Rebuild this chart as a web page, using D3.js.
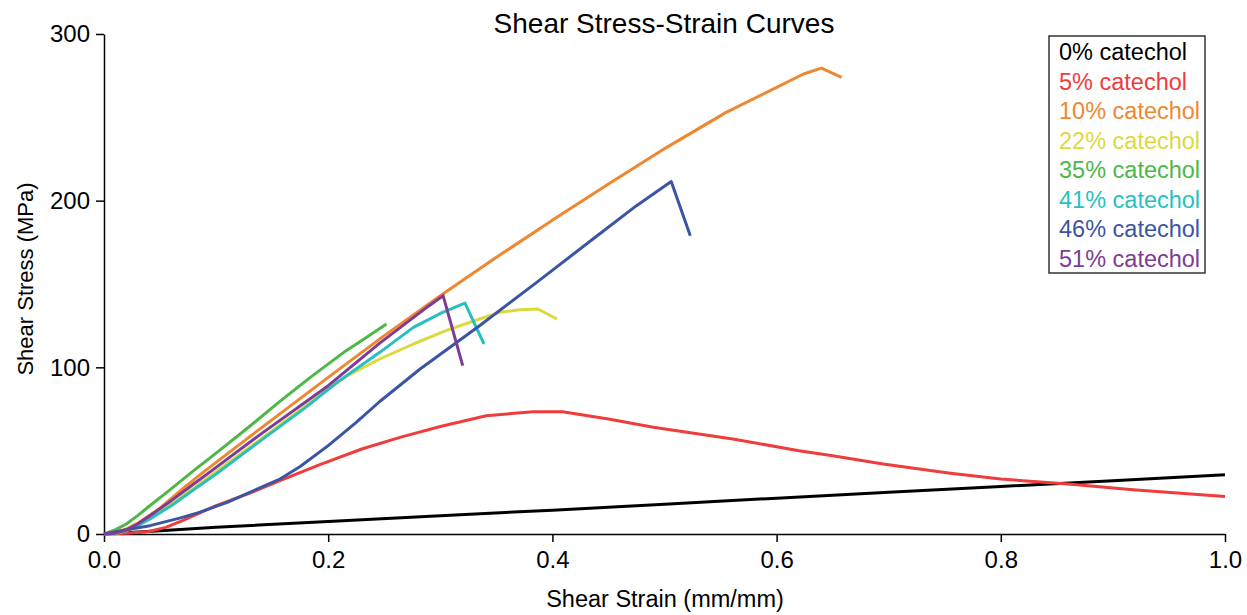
<!DOCTYPE html>
<html>
    <head>
        <meta charset="utf-8">
        <title>Shear Stress-Strain Curves</title>
        <script src="https://d3js.org/d3.v7.min.js"></script>
        <style>
        body{
            margin: 0;
            background: #ffffff;
        }
        svg{
            font-family: Arial, "Liberation Sans", Helvetica, sans-serif;
        }
        .axis path, .axis line{
            stroke: #000;
            stroke-width: 1.5px;
        }
        .axis text{
            font-size: 24px;
            fill: #000;
        }
        .curve{
            fill: none;
            stroke-width: 3px;
            stroke-linejoin: round;
        }
        </style>
    </head>
    <body>
        <script>
            // series labels and colours
            var seriesNames = ["0% catechol", "5% catechol", "10% catechol", "22% catechol",
                               "35% catechol", "41% catechol", "46% catechol", "51% catechol"];
            var seriesColors = ["#000000", "#ee3d3c", "#ef8731", "#dcd93e",
                                "#4db748", "#29bfc0", "#3b55a5", "#7c3c97"];

            // [strain, stress]
            var cat0 = [[0,0],[0.05,2],[0.1,4],[0.2,7.5],[0.3,11],[0.4,14.3],[0.5,17.8],[0.6,21.5],[0.7,25],[0.8,28.5],[0.9,32],[1,35.5]];
            var cat5 = [[0,0],[0.02,0.5],[0.04,1.5],[0.055,4],[0.07,8],[0.085,12.5],[0.1,17],[0.13,24.5],[0.157,32],[0.192,41.5],
                        [0.23,51],[0.264,58],[0.3,64.5],[0.341,71],[0.383,73.4],[0.409,73.4],[0.45,69],[0.49,64],[0.561,57],
                        [0.62,50],[0.65,47],[0.695,42],[0.755,36.5],[0.8,33],[0.86,30],[0.918,26.5],[1.0,22.5]];
            var cat10 = [[0,0],[0.01,1],[0.02,3],[0.03,6.5],[0.04,11],[0.05,15.5],[0.07,27],[0.0855,35.5],[0.1,43],[0.135,61],
                         [0.2,94],[0.25,119],[0.3,143],[0.35,166],[0.404,190],[0.45,210],[0.502,232],[0.555,253],[0.6,268],
                         [0.624,276],[0.64,279.5],[0.658,274]];
            var cat22 = [[0,0],[0.01,0.3],[0.02,2],[0.03,5],[0.041,9.5],[0.06,18],[0.08,27.5],[0.1,37.5],[0.14,57],[0.18,77],
                         [0.2,87],[0.216,94.5],[0.246,105],[0.276,114],[0.305,122],[0.335,129],[0.353,133],[0.371,134.5],
                         [0.387,135],[0.404,129]];
            var cat35 = [[0,0],[0.01,2.5],[0.02,6],[0.03,11],[0.04,16.5],[0.056,25],[0.08,38],[0.1,48.5],[0.127,63],[0.155,78.5],
                         [0.184,94],[0.216,110],[0.231,116.5],[0.252,126]];
            var cat41 = [[0,0],[0.01,0.5],[0.02,2],[0.03,5],[0.041,9],[0.06,17],[0.08,26.5],[0.1,36],[0.141,56.6],[0.18,76],
                         [0.21,92],[0.246,109],[0.276,124],[0.302,133],[0.322,138.5],[0.339,114]];
            var cat46 = [[0,0],[0.02,2.5],[0.041,5],[0.0675,9.5],[0.085,13],[0.11,19],[0.13,25],[0.157,33],[0.175,40.5],
                         [0.2,53],[0.225,67],[0.246,79.5],[0.282,99],[0.335,125],[0.386,151],[0.442,180],[0.475,197],[0.506,211.5],[0.523,179]];
            var cat51 = [[0,0],[0.01,0.5],[0.02,2.5],[0.03,6],[0.041,11],[0.06,20],[0.08,30],[0.1,40],[0.142,61],[0.2,89],
                         [0.246,114.5],[0.29,137],[0.3025,143],[0.32,101]];

            var xTicks = [0, 0.2, 0.4, 0.6, 0.8, 1.0];
            var yTicks = [0, 100, 200, 300];

            var allSeries = [cat0, cat5, cat10, cat22, cat35, cat41, cat46, cat51];

            var margin = { top: 34, right: 22, bottom: 81, left: 104 },
                width = 1247 - margin.left - margin.right,
                height = 615 - margin.top - margin.bottom;

            var root = d3.select('body').append('svg')
                .attr('width', 1247)
                .attr('height', 615);

            var svg = root.append('g')
                .attr('transform', 'translate(' + margin.left + ',' + margin.top + ')');

            var x = d3.scaleLinear().domain([0, 1]).range([0, width]);
            var y = d3.scaleLinear().domain([0, 300]).range([height, 0]);

            // axes
            svg.append('g')
                .attr('class', 'axis')
                .attr('transform', 'translate(0,' + height + ')')
                .call(d3.axisBottom(x).tickValues(xTicks).tickFormat(d3.format('.1f'))
                    .tickSizeInner(8).tickSizeOuter(0).tickPadding(9));

            svg.append('g')
                .attr('class', 'axis')
                .call(d3.axisLeft(y).tickValues(yTicks)
                    .tickSizeInner(8).tickSizeOuter(0).tickPadding(6));

            // curves
            var line = d3.line()
                .x(function(d){ return x(d[0]); })
                .y(function(d){ return y(d[1]); });

            svg.selectAll('.curve')
                .data(allSeries)
                .enter()
                .append('path')
                .attr('class', 'curve')
                .attr('d', line)
                .attr('stroke', function(d, i){ return seriesColors[i]; });

            // title + axis labels
            root.append('text')
                .attr('x', 664)
                .attr('y', 33)
                .attr('text-anchor', 'middle')
                .style('font-size', '28px')
                .text('Shear Stress-Strain Curves');

            root.append('text')
                .attr('x', 665)
                .attr('y', 607)
                .attr('text-anchor', 'middle')
                .style('font-size', '23.5px')
                .text('Shear Strain (mm/mm)');

            root.append('text')
                .attr('transform', 'translate(33,279) rotate(-90)')
                .attr('text-anchor', 'middle')
                .style('font-size', '22px')
                .text('Shear Stress (MPa)');

            // legend
            var legend = root.append('g')
                .attr('transform', 'translate(1049,36)');

            legend.append('rect')
                .attr('width', 156)
                .attr('height', 237)
                .attr('fill', '#fff')
                .attr('stroke', '#333')
                .attr('stroke-width', 1.5);

            legend.selectAll('.leg')
                .data(seriesNames)
                .enter()
                .append('text')
                .attr('class', 'leg')
                .attr('x', 10)
                .attr('y', function(d, i){ return 24 + i * 29.5; })
                .style('font-size', '23.5px')
                .attr('fill', function(d, i){ return seriesColors[i]; })
                .text(function(d){ return d; });
        </script>
    </body>
</html>
